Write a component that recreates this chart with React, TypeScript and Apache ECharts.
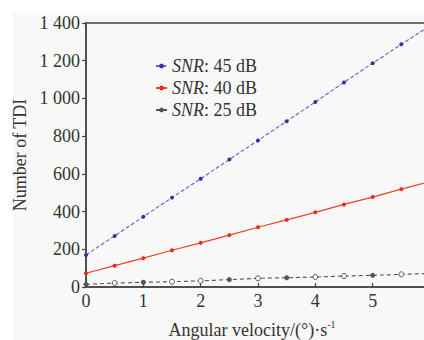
import React, { useEffect, useRef } from "react";
import * as echarts from "echarts";

const xValues = [0, 0.5, 1, 1.5, 2, 2.5, 3, 3.5, 4, 4.5, 5, 5.5, 6];
const snr45 = [170, 271, 373, 474, 574, 676, 777, 879, 981, 1085, 1187, 1287, 1385];
const snr40 = [73, 113, 153, 195, 234, 275, 317, 356, 396, 438, 477, 519, 560];
const snr25 = [14, 21, 25, 28, 33, 39, 46, 49, 53, 58, 62, 67, 72];
const snr25Hollow = [false, true, false, true, true, false, true, false, true, true, false, true, false];
const seriesNames = ["45", "40", "25"];
const yTicks = [0, 200, 400, 600, 800, 1000, 1200, 1400];

const FONT = "'Liberation Serif', 'DejaVu Serif', serif";

export default function App() {
  const ref = useRef<HTMLDivElement>(null);
  useEffect(() => {
    if (!ref.current) return;
    const chart = echarts.init(ref.current, null, { renderer: "svg" });
    const pairs = (ys: number[]) => xValues.map((x, i) => [x, ys[i]]);
    chart.setOption({
      animation: false,
      backgroundColor: "#ffffff",
      graphic: [
        {
          type: "rect",
          z: -10,
          silent: true,
          shape: { x: 13, y: 12, width: 420, height: 340 },
          style: { fill: "#f8f8f8" },
        },
      ],
      grid: {
        left: 86,
        top: 23,
        right: -6,
        bottom: 53,
        outerBoundsMode: "none",
        containLabel: false,
        show: true,
        borderColor: "#444",
        borderWidth: 1.5,
        backgroundColor: "transparent",
      },
      legend: {
        orient: "vertical",
        left: 150,
        top: 52,
        itemGap: 4,
        itemWidth: 11,
        itemHeight: 6,
        data: seriesNames.map((s) => "SNR: " + s + " dB"),
        formatter: (name: string) => "{i|SNR}: " + name.replace("SNR: ", ""),
        textStyle: {
          fontFamily: FONT,
          fontSize: 18,
          color: "#333",
          rich: {
            i: { fontFamily: FONT, fontSize: 18, fontStyle: "italic", color: "#333" },
          },
        },
      },
      xAxis: {
        type: "value",
        min: 0,
        max: 6,
        interval: 1,
        name: "Angular velocity/(°)·s{sup|-1}",
        nameLocation: "middle",
        nameGap: 32,
        nameTextStyle: {
          fontFamily: FONT,
          fontSize: 18,
          color: "#333",
          padding: [0, 12, 0, 0],
          rich: {
            sup: { fontFamily: FONT, fontSize: 10, color: "#333", padding: [0, 0, 12, 0] },
          },
        },
        axisLine: { lineStyle: { color: "#444", width: 1.5 } },
        axisTick: { inside: true, length: 4, lineStyle: { color: "#444", width: 1.2 } },
        axisLabel: { fontFamily: FONT, fontSize: 18, color: "#333", margin: 5 },
        splitLine: { show: false },
      },
      yAxis: {
        type: "value",
        min: yTicks[0],
        max: yTicks[yTicks.length - 1],
        interval: 200,
        name: "Number of TDI",
        nameLocation: "middle",
        nameGap: 53,
        nameTextStyle: { fontFamily: FONT, fontSize: 18, color: "#333" },
        axisLine: { show: true, lineStyle: { color: "#444", width: 1.5 } },
        axisTick: { show: true, length: 4, lineStyle: { color: "#444", width: 1.2 } },
        axisLabel: {
          fontFamily: FONT,
          fontSize: 18,
          color: "#333",
          margin: 6,
          formatter: (v: number) => String(v).replace(/\B(?=(\d{3})+(?!\d))/g, " "),
        },
        splitLine: { show: false },
      },
      series: [
        {
          name: "SNR: 45 dB",
          type: "line",
          data: pairs(snr45),
          symbol: "circle",
          symbolSize: 4,
          lineStyle: { color: "#6a5fd6", width: 1.1, type: [4, 2] },
          itemStyle: { color: "#3b2fa8" },
        },
        {
          name: "SNR: 40 dB",
          type: "line",
          data: pairs(snr40),
          symbol: "circle",
          symbolSize: 4,
          lineStyle: { color: "#f0402a", width: 1.2 },
          itemStyle: { color: "#e8281a" },
        },
        {
          name: "SNR: 25 dB",
          type: "line",
          data: xValues.map((x, i) => ({
            value: [x, snr25[i]],
            itemStyle: snr25Hollow[i]
              ? { color: "#f8f8f8", borderColor: "#555", borderWidth: 1 }
              : { color: "#555" },
          })),
          symbol: "circle",
          symbolSize: 5,
          lineStyle: { color: "#555", width: 1.1, type: [4, 3] },
          itemStyle: { color: "#555" },
        },
      ],
    });
    return () => chart.dispose();
  }, []);
  return (
    <div
      ref={ref}
      style={{ position: "fixed", left: 0, top: 0, width: 424, height: 340 }}
    />
  );
}
